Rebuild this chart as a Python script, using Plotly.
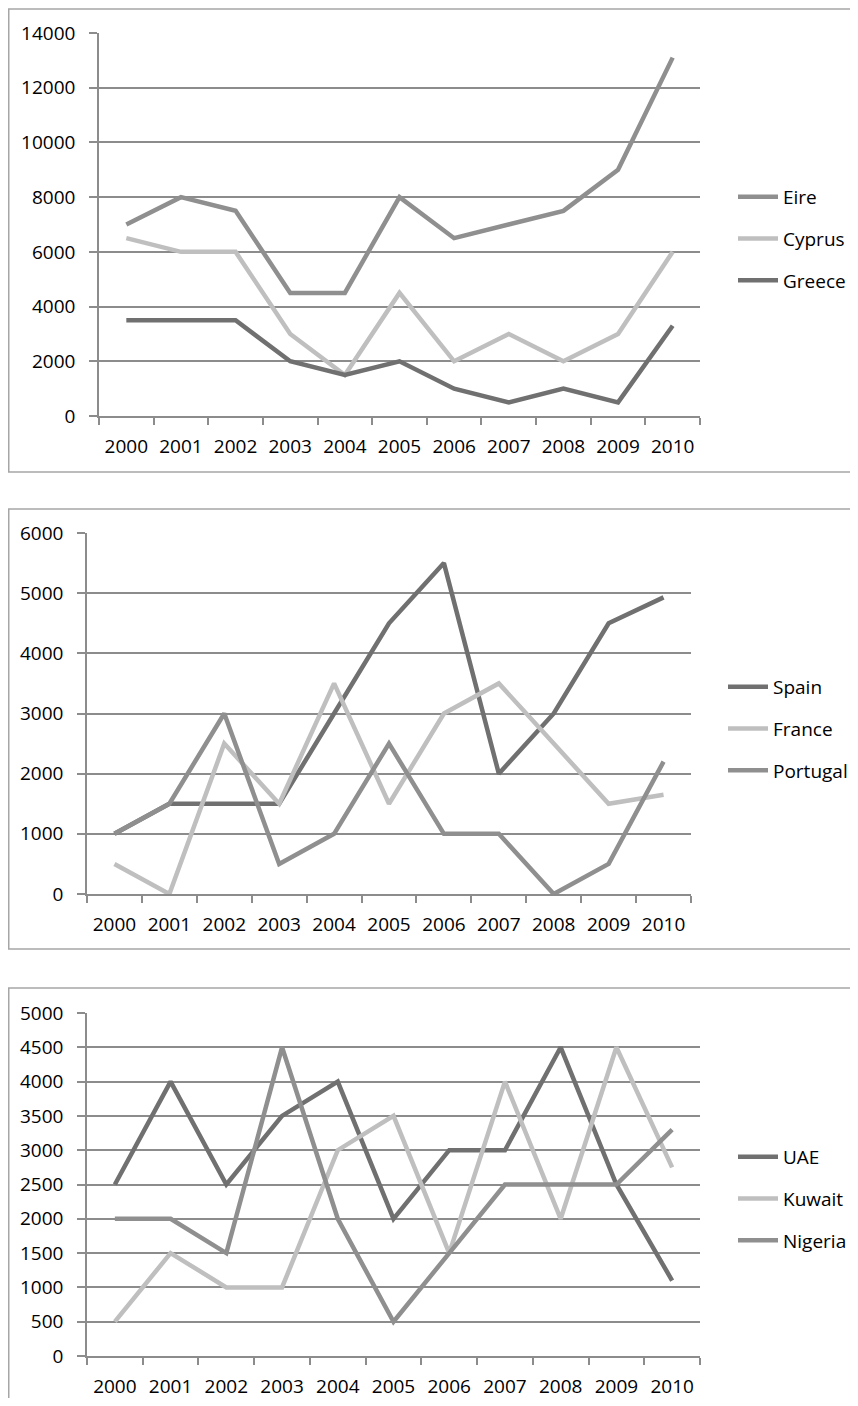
import plotly.graph_objects as go

years = ["2000", "2001", "2002", "2003", "2004", "2005", "2006", "2007", "2008", "2009", "2010"]

# Panel 1
eire = [7000, 8000, 7500, 4500, 4500, 8000, 6500, 7000, 7500, 9000, 13100]
cyprus = [6500, 6000, 6000, 3000, 1500, 4500, 2000, 3000, 2000, 3000, 6000]
greece = [3500, 3500, 3500, 2000, 1500, 2000, 1000, 500, 1000, 500, 3300]

# Panel 2
spain = [1000, 1500, 1500, 1500, 3000, 4500, 5500, 2000, 3000, 4500, 4930]
france = [500, 0, 2500, 1500, 3500, 1500, 3000, 3500, 2500, 1500, 1650]
portugal = [1000, 1500, 3000, 500, 1000, 2500, 1000, 1000, 0, 500, 2200]

# Panel 3
uae = [2500, 4000, 2500, 3500, 4000, 2000, 3000, 3000, 4500, 2500, 1100]
kuwait = [500, 1500, 1000, 1000, 3000, 3500, 1500, 4000, 2000, 4500, 2750]
nigeria = [2000, 2000, 1500, 4500, 2000, 500, 1500, 2500, 2500, 2500, 3300]

DARK = "#707070"
MID = "#8f8f8f"
LIGHT = "#bfbfbf"
GRID = "#8c8c8c"
BORDER = "#a6a6a6"

# page body has an 8px margin: figure occupies page x 8..858, y 8..1398
OFF = 8
W, H = 850, 1390
FONT = dict(family="Open Sans", size=19, color="#000000")


def px_x(x):
    return (x - OFF) / W


def px_y(y):
    return (H - (y - OFF)) / H


panels = [
    dict(series=[("Eire", eire, MID), ("Cyprus", cyprus, LIGHT), ("Greece", greece, DARK)],
         x0=99, x1=700, ytop=33, ybot=416, ymax=14000, dtick=2000, leg=(733, 178)),
    dict(series=[("Spain", spain, DARK), ("France", france, LIGHT), ("Portugal", portugal, MID)],
         x0=87, x1=691, ytop=533, ybot=894, ymax=6000, dtick=1000, leg=(723, 668)),
    dict(series=[("UAE", uae, DARK), ("Kuwait", kuwait, LIGHT), ("Nigeria", nigeria, MID)],
         x0=87, x1=700, ytop=1013, ybot=1356, ymax=5000, dtick=500, leg=(733, 1138)),
]

fig = go.Figure()
layout = dict(
    width=W, height=H, margin=dict(l=0, r=0, t=0, b=0, pad=0), autosize=False,
    paper_bgcolor="white", plot_bgcolor="white", font=FONT, showlegend=True,
)

for i, p in enumerate(panels, start=1):
    sfx = "" if i == 1 else str(i)
    legname = "legend" if i == 1 else f"legend{i}"
    for name, vals, col in p["series"]:
        fig.add_trace(go.Scatter(
            x=years, y=vals, name=name, mode="lines",
            line=dict(color=col, width=4.5),
            xaxis=f"x{sfx}", yaxis=f"y{sfx}", legend=legname,
            legendgroup=name, hoverinfo="x+y+name",
        ))
    layout[f"xaxis{sfx}"] = dict(
        domain=[px_x(p["x0"]), px_x(p["x1"])], anchor=f"y{sfx}",
        type="category", range=[-0.5, 10.5], showgrid=False, automargin=False,
        showline=True, linecolor=GRID, linewidth=1.5,
        ticks="outside", ticklen=7, tickcolor=GRID, tickwidth=1.5,
        tickson="boundaries", ticklabelstandoff=12,
        tickfont=FONT, fixedrange=True,
    )
    layout[f"yaxis{sfx}"] = dict(
        domain=[px_y(p["ybot"]), px_y(p["ytop"])], anchor=f"x{sfx}",
        range=[0, p["ymax"]], dtick=p["dtick"], tick0=0, tickformat="d",
        showgrid=True, gridcolor=GRID, gridwidth=1.5, zeroline=False, automargin=False,
        showline=True, linecolor=GRID, linewidth=1.5,
        ticks="outside", ticklen=8, tickcolor=GRID, tickwidth=1.5,
        ticklabelstandoff=10, tickfont=FONT, fixedrange=True,
    )
    lx, ly = p["leg"]
    layout[legname] = dict(
        x=px_x(lx), y=px_y(ly), xanchor="left", yanchor="top",
        xref="paper", yref="paper", font=FONT, bgcolor="rgba(0,0,0,0)",
        traceorder="grouped", tracegroupgap=14, itemwidth=40,
    )

borders = [(6, 9, 870, 472), (6, 509, 870, 949), (6, 988, 870, 1430)]
shapes = []
for x0, y0, x1, y1 in borders:
    shapes.append(dict(type="rect", xref="paper", yref="paper",
                       x0=px_x(max(x0, OFF + 0.75)), x1=px_x(x1),
                       y0=px_y(y1), y1=px_y(y0),
                       line=dict(color=BORDER, width=1.5), layer="below"))
layout["shapes"] = shapes

fig.update_layout(**layout)
fig.write_html("out.html")
